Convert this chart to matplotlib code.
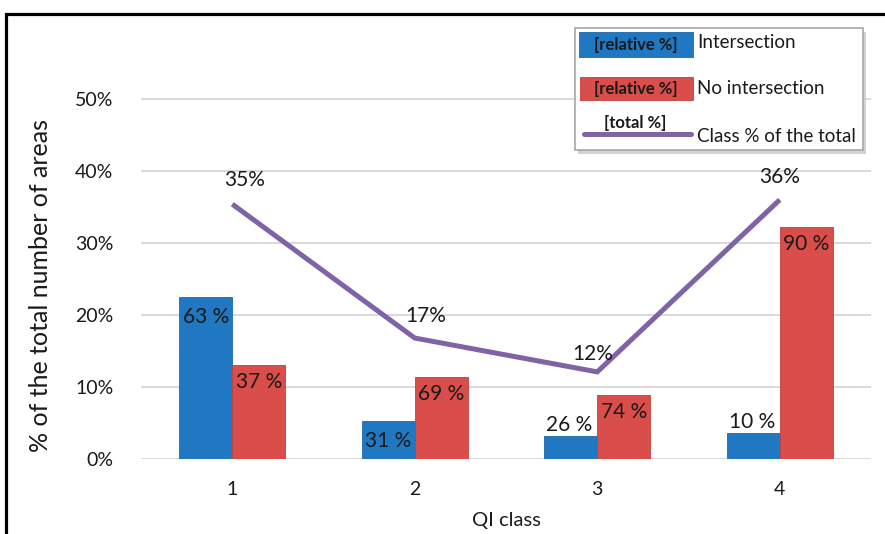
import matplotlib
matplotlib.use("Agg")
import matplotlib.pyplot as plt
from matplotlib.patches import Rectangle
from matplotlib.lines import Line2D
import numpy as np

plt.rcParams['font.family'] = ['Lato', 'DejaVu Sans']

# ---- data ----
categories = ["1", "2", "3", "4"]
intersection = [22.5, 5.3, 3.2, 3.6]        # % of total areas (bar height)
no_intersection = [13.0, 11.4, 8.9, 32.2]   # % of total areas (bar height)
class_total = [35.4, 16.8, 12.1, 36.0]      # line
intersection_rel = [63, 31, 26, 10]         # relative % labels
no_intersection_rel = [37, 69, 74, 90]
class_total_lbl = [35, 17, 12, 36]
yticks = [0, 10, 20, 30, 40, 50]

W, H = 885, 534
fig = plt.figure(figsize=(W / 100, H / 100), dpi=100)

def fx(px):
    return px / W

def fy(py):
    return 1 - py / H

BLUE = "#1f78c1"
RED = "#d94e4b"
PURPLE = "#8062a6"
TXT = "#1a1a1a"

ax = fig.add_axes([fx(141), fy(459), fx(871) - fx(141), (459 - 63) / H])
x = np.arange(len(categories))
bw = 0.29
ax.bar(x - bw / 2, intersection, bw, color=BLUE, edgecolor="#1a6aab", linewidth=0.6, zorder=3)
ax.bar(x + bw / 2, no_intersection, bw, color=RED, edgecolor="#c23d3a", linewidth=0.6, zorder=3)
ax.plot(x, class_total, color=PURPLE, linewidth=3.6, solid_capstyle="butt", solid_joinstyle="miter", zorder=4)

ax.set_xlim(-0.5, len(categories) - 0.5)
ax.set_ylim(0, 55)
ax.set_yticks(yticks)
ax.set_yticklabels([f"{v}%" for v in yticks], fontsize=14, color=TXT)
ax.set_xticks(x)
ax.set_xticklabels(categories, fontsize=14, color=TXT)
ax.tick_params(axis="both", length=0)
ax.tick_params(axis="y", pad=20)
ax.tick_params(axis="x", pad=16)
for s in ["top", "right", "left", "bottom"]:
    ax.spines[s].set_visible(False)
ax.yaxis.grid(True, color="#d9d9d9", linewidth=1.4, zorder=0)
ax.set_axisbelow(True)
ax.set_xlabel("QI class", fontsize=14.5, color=TXT, labelpad=10)
ax.set_ylabel("% of the total number of areas", fontsize=18, color=TXT)
ax.yaxis.set_label_coords((52 - 141) / 730, (459 - 286) / 396)

# bar labels
inside_blue = [True, True, False, False]
for i, v in enumerate(intersection):
    if inside_blue[i]:
        ax.annotate(f"{intersection_rel[i]} %", (x[i] - bw / 2, v), xytext=(0, -7),
                    textcoords="offset points", ha="center", va="top", fontsize=15, color=TXT, zorder=5)
    else:
        ax.annotate(f"{intersection_rel[i]} %", (x[i] - bw / 2, v), xytext=(-1, 1),
                    textcoords="offset points", ha="center", va="bottom", fontsize=15, color=TXT, zorder=5)
for i, v in enumerate(no_intersection):
    ax.annotate(f"{no_intersection_rel[i]} %", (x[i] + bw / 2, v), xytext=(0, -5),
                textcoords="offset points", ha="center", va="top", fontsize=15, color=TXT, zorder=5)

# line labels
line_dx = [9, 8, -3, 0]
line_dy = [10, 9, 6, 9]
for i, v in enumerate(class_total):
    ax.annotate(f"{class_total_lbl[i]}%", (x[i], v), xytext=(line_dx[i], line_dy[i]),
                textcoords="offset points", ha="center", va="bottom", fontsize=15, color=TXT, zorder=5)

# outer frame
fig.patches.append(Rectangle((fx(6), fy(600)), 2, fy(14) - fy(600), transform=fig.transFigure,
                             fill=False, edgecolor="black", linewidth=2.3, zorder=10))

# legend (custom)
shadow = Rectangle((fx(578), fy(154)), fx(863) - fx(575), fy(28) - fy(150),
                   transform=fig.transFigure, facecolor="#c8c8c8", edgecolor="none", zorder=8, alpha=0.8)
box = Rectangle((fx(575), fy(150)), fx(863) - fx(575), fy(28) - fy(150),
                transform=fig.transFigure, facecolor="white", edgecolor="#a6a6a6", linewidth=1.2, zorder=9)
fig.patches.extend([shadow, box])
r1 = Rectangle((fx(579), fy(57)), fx(693) - fx(579), fy(32) - fy(57), transform=fig.transFigure,
               facecolor=BLUE, edgecolor="#1a6aab", linewidth=0.6, zorder=10)
r2 = Rectangle((fx(580), fy(100)), fx(693) - fx(580), fy(77) - fy(100), transform=fig.transFigure,
               facecolor=RED, edgecolor="#c23d3a", linewidth=0.6, zorder=10)
fig.patches.extend([r1, r2])
fig.lines.append(Line2D([fx(584), fx(691)], [fy(134), fy(134)], transform=fig.transFigure,
                        color=PURPLE, linewidth=3.6, solid_capstyle="round", zorder=10))
fig.text(fx(636), fy(45), "[relative %]", ha="center", va="center", fontsize=12, fontweight="bold", color=TXT, zorder=11)
fig.text(fx(636), fy(89), "[relative %]", ha="center", va="center", fontsize=12, fontweight="bold", color=TXT, zorder=11)
fig.text(fx(635), fy(123), "[total %]", ha="center", va="center", fontsize=12, fontweight="bold", color=TXT, zorder=11)
fig.text(fx(697), fy(42), "Intersection", ha="left", va="center", fontsize=13.5, color=TXT, zorder=11)
fig.text(fx(697), fy(89), "No intersection", ha="left", va="center", fontsize=13.5, color=TXT, zorder=11)
fig.text(fx(697), fy(136), "Class % of the total", ha="left", va="center", fontsize=13.5, color=TXT, zorder=11)

fig.savefig("out.png", dpi=100)
